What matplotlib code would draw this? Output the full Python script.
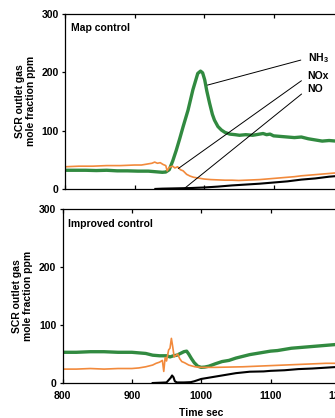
import matplotlib
matplotlib.use("Agg")
import matplotlib.pyplot as plt

plt.rcParams['font.family'] = ['Liberation Sans', 'DejaVu Sans']
plt.rcParams['font.weight'] = 'bold'
plt.rcParams['mathtext.fontset'] = 'custom'
plt.rcParams['mathtext.rm'] = 'Liberation Sans:bold'
plt.rcParams['mathtext.bf'] = 'Liberation Sans:bold'

# --- Map control (top) ---
t_nh3_map = [800, 815, 830, 845, 860, 875, 890, 905, 920, 930, 940, 945, 950, 955, 960, 965, 970,
             977, 984, 991, 995, 998, 1001, 1004, 1008, 1012, 1015, 1020, 1025, 1030, 1037, 1045,
             1051, 1060, 1070, 1080, 1085, 1090, 1095, 1100, 1110, 1120, 1130, 1140, 1150, 1160,
             1170, 1180, 1190, 1200]
nh3_map = [32, 32, 32, 31.5, 32, 31, 31, 30.5, 30.5, 29.5, 28.5, 29, 33, 48, 66, 86, 107,
           135, 170, 198, 202, 199, 187, 168, 147, 128, 118, 107, 101, 97, 94, 93,
           92, 93, 92, 94, 95, 93, 94, 91, 90, 89, 88, 89, 86, 84,
           82, 83, 82, 82]

t_nox_map = [800, 820, 840, 860, 880, 900, 910, 920, 925, 929, 933, 937, 941, 945, 947, 950, 955,
             958, 962, 966, 970, 975, 980, 985, 990, 1000, 1010, 1020, 1030, 1040, 1050, 1060,
             1070, 1080, 1090, 1100, 1110, 1120, 1130, 1140, 1150, 1160, 1170, 1180, 1190, 1200]
nox_map = [38, 39, 39, 40, 40, 41, 41, 43, 44, 46, 44, 45, 42, 40, 31, 37, 39,
           36, 38, 33, 31, 25, 22, 20, 19, 17, 16, 15.5, 15, 15, 14.5, 15,
           15.5, 16, 17, 18, 19, 20, 21, 22.5, 23.5, 24.5, 25.5, 26.5, 27.5, 28]

t_no_map = [930, 940, 960, 980, 1000, 1020, 1040, 1060, 1080, 1100, 1120, 1140, 1160, 1180, 1200]
no_map = [0, 0.5, 1, 1.5, 2.5, 4, 6, 7.5, 9, 11, 13, 16, 18, 21, 23]

# --- Improved control (bottom) ---
t_nh3_imp = [800, 820, 840, 860, 880, 900, 910, 920, 930, 940, 950, 955, 960, 965, 970, 975, 979,
             982, 986, 990, 995, 1000, 1005, 1011, 1020, 1030, 1040, 1050, 1060, 1070, 1080,
             1090, 1100, 1110, 1120, 1130, 1140, 1150, 1160, 1170, 1180, 1190, 1200]
nh3_imp = [53, 53, 54, 54, 53, 53, 52, 51, 48, 47, 47, 45, 47, 48, 51, 54, 55,
           50, 42, 35, 29, 27, 27.5, 29, 33, 37, 39, 43, 46, 49, 51,
           53, 55, 56, 58, 60, 61, 62, 63, 64, 65, 66, 67]

t_nox_imp = [800, 820, 840, 860, 880, 900, 910, 920, 930, 935, 940, 944, 946, 948, 950, 953, 955,
             957, 959, 961, 963, 966, 969, 972, 976, 982, 991, 1000, 1020, 1040, 1060, 1080,
             1100, 1120, 1140, 1160, 1180, 1200]
nox_imp = [24, 24, 25, 24, 25, 25, 26, 28, 31, 34, 36, 39, 20, 44, 38, 57, 60,
           77, 62, 45, 47, 50, 42, 37, 35, 31, 28, 27, 27, 27.5, 28, 29,
           30, 31, 32, 33, 34, 34]

t_no_imp = [930, 950, 953, 956, 958, 960, 962, 965, 975, 985, 990, 1000, 1010, 1025, 1040, 1050,
            1070, 1090, 1100, 1120, 1140, 1160, 1180, 1200]
no_imp = [0, 1, 5, 9, 13, 10, 3, 1, 1, 1.5, 3, 7, 9, 12, 15, 17,
          19.5, 20, 21, 22, 24, 25, 26.5, 28]

green = '#318a40'
orange = '#f28a3c'
ylab = 'SCR outlet gas\nmole fraction ppm'

fig = plt.figure(figsize=(3.35, 4.18), dpi=100)
ax1 = fig.add_axes([0.194, 0.548, 0.830, 0.4187])
ax2 = fig.add_axes([0.1866, 0.0837, 0.828, 0.416])

def style(ax):
    ax.set_xlim(800, 1200)
    ax.set_ylim(0, 300)
    ax.set_xticks([800, 900, 1000, 1100, 1200])
    ax.set_yticks([0, 100, 200, 300])
    ax.tick_params(axis='x', direction='in', top=True, length=3, width=0.9, labelsize=7.5, pad=6)
    ax.tick_params(axis='y', direction='out', length=2.5, width=0.9, labelsize=7.5, pad=2)
    for s in ax.spines.values():
        s.set_linewidth(0.9)
    ax.set_ylabel(ylab, fontsize=7.5, fontweight='bold', labelpad=4, linespacing=1.15)

for ax, tg, g, to, o, tb, b in [(ax1, t_nh3_map, nh3_map, t_nox_map, nox_map, t_no_map, no_map),
                                (ax2, t_nh3_imp, nh3_imp, t_nox_imp, nox_imp, t_no_imp, no_imp)]:
    ax.plot(tg, g, color=green, lw=2.4, solid_joinstyle='round')
    ax.plot(to, o, color=orange, lw=1.2)
    ax.plot(tb, b, color='black', lw=1.5)
    style(ax)

ax1.tick_params(axis='x', labelbottom=False)
ax1.text(0.02, 0.9, 'Map control', transform=ax1.transAxes, fontsize=7.5, fontweight='bold')
ax2.text(0.02, 0.9, 'Improved control', transform=ax2.transAxes, fontsize=7.5, fontweight='bold')
ax2.set_xlabel('Time sec', fontsize=7.5, fontweight='bold', labelpad=5)

ap = dict(arrowstyle='-', color='black', lw=0.7, relpos=(0, 0.5), shrinkA=3, shrinkB=0)
ax1.annotate(r'NH$_3$', xy=(1005, 178), xytext=(1149, 224), fontsize=7.5, fontweight='bold',
             va='center', arrowprops=ap)
ax1.annotate('NOx', xy=(963, 35), xytext=(1149, 193), fontsize=7.5, fontweight='bold',
             va='center', arrowprops=ap)
ax1.annotate('NO', xy=(972, 1), xytext=(1149, 171), fontsize=7.5, fontweight='bold',
             va='center', arrowprops=ap)

fig.savefig('out.png', dpi=100)
